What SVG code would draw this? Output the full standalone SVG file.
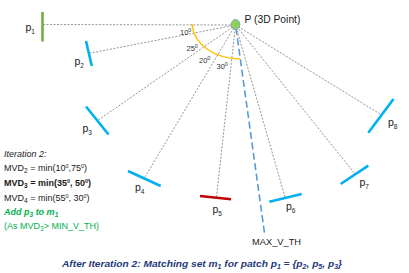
<svg xmlns="http://www.w3.org/2000/svg" width="409" height="273" viewBox="0 0 409 273">
<style>
text{font-family:"Liberation Sans",Arial,sans-serif;fill:#1a1a1a}
.ray{stroke:#666;stroke-width:0.7;stroke-dasharray:2 1.5;fill:none}
.patch{stroke:#00B0F0;stroke-width:2.6;stroke-linecap:butt;fill:none}
.lbl{font-size:10.5px}
.sub{font-size:6.5px}
.ang{font-size:7.5px;fill:#333}
.sup{font-size:5.5px}
.it{font-size:9px}
.grn{fill:#00B050}
</style>
<g id="connectors">
<line class="ray" x1="43" y1="24.5" x2="235.5" y2="25"/>
<line class="ray" x1="89.3" y1="53.3" x2="235.5" y2="25"/>
<line class="ray" x1="98.3" y1="120" x2="235.5" y2="25"/>
<line class="ray" x1="145" y1="177" x2="235.5" y2="25"/>
<line class="ray" x1="216.5" y1="197" x2="235.5" y2="25"/>
<line class="ray" x1="285" y1="197" x2="235.5" y2="25"/>
<line class="ray" x1="354" y1="172.7" x2="235.5" y2="25"/>
<line class="ray" x1="380" y1="114" x2="235.5" y2="25"/>
<line id="max-v-th" x1="236" y1="28" x2="264.5" y2="233" stroke="#5B9BD5" stroke-width="1.6" stroke-dasharray="7 3.5"/>
<path id="arc" d="M192 24 C194 45 214 58 239.5 59" fill="none" stroke="#FFC000" stroke-width="1.5"/>
</g>
<g id="P">
<ellipse cx="235.5" cy="24.5" rx="4.3" ry="5" fill="#92D050" stroke="#5B9BD5" stroke-width="0.8"/>
<text x="244.5" y="23" style="font-size:10.3px">P (3D Point)</text>
</g>
<g id="p1">
<line x1="42.5" y1="12" x2="42.5" y2="41.5" stroke="#70AD47" stroke-width="2.6"/>
<text class="lbl" x="25.5" y="31">p<tspan class="sub" dy="3">1</tspan></text>
</g>
<g id="p2">
<line class="patch" x1="86" y1="41" x2="91.8" y2="66"/>
<text class="lbl" x="74.5" y="65">p<tspan class="sub" dy="3">2</tspan></text>
</g>
<g id="p3">
<line class="patch" x1="86" y1="106.5" x2="108.5" y2="134.5"/>
<text class="lbl" x="82.5" y="132">p<tspan class="sub" dy="3">3</tspan></text>
</g>
<g id="p4">
<line class="patch" x1="128" y1="171" x2="160.7" y2="186"/>
<text class="lbl" x="135" y="191">p<tspan class="sub" dy="3">4</tspan></text>
</g>
<g id="p5">
<line x1="200" y1="196" x2="231" y2="199.3" stroke="#C00000" stroke-width="2.6"/>
<text class="lbl" x="212.5" y="213">p<tspan class="sub" dy="3">5</tspan></text>
</g>
<g id="p6">
<line class="patch" x1="269.3" y1="201.7" x2="301.7" y2="194"/>
<text class="lbl" x="286" y="210">p<tspan class="sub" dy="3">6</tspan></text>
</g>
<g id="p7">
<line class="patch" x1="340.7" y1="184" x2="368.3" y2="165.7"/>
<text class="lbl" x="359.5" y="186">p<tspan class="sub" dy="3">7</tspan></text>
</g>
<g id="p8">
<line class="patch" x1="368.3" y1="132.7" x2="393.5" y2="99"/>
<text class="lbl" x="388" y="126">p<tspan class="sub" dy="3">8</tspan></text>
</g>
<g id="angles">
<text class="ang" x="180" y="34.5">10<tspan class="sup" dy="-3">0</tspan></text>
<text class="ang" x="186.5" y="50.5">25<tspan class="sup" dy="-3">0</tspan></text>
<text class="ang" x="199" y="63">20<tspan class="sup" dy="-3">0</tspan></text>
<text class="ang" x="216.5" y="68.5">30<tspan class="sup" dy="-3">0</tspan></text>
</g>
<text x="252" y="245" style="font-size:9.3px">MAX_V_TH</text>
<g id="iteration">
<text class="it" x="4" y="157" font-style="italic">Iteration 2:</text>
<text class="it" x="4" y="171">MVD<tspan class="sub" dy="2">2</tspan><tspan dy="-2"> = min(10</tspan><tspan class="sup" dy="-3.5">0</tspan><tspan dy="3.5">,75</tspan><tspan class="sup" dy="-3.5">0</tspan><tspan dy="3.5">)</tspan></text>
<text class="it" x="4" y="186" font-weight="bold">MVD<tspan class="sub" dy="2">3</tspan><tspan dy="-2"> = min(35</tspan><tspan class="sup" dy="-3.5">0</tspan><tspan dy="3.5">, 50</tspan><tspan class="sup" dy="-3.5">0</tspan><tspan dy="3.5">)</tspan></text>
<text class="it" x="4" y="201">MVD<tspan class="sub" dy="2">4</tspan><tspan dy="-2"> = min(55</tspan><tspan class="sup" dy="-3.5">0</tspan><tspan dy="3.5">, 30</tspan><tspan class="sup" dy="-3.5">0</tspan><tspan dy="3.5">)</tspan></text>
<text class="it grn" x="4" y="215" font-weight="bold" font-style="italic">Add p<tspan class="sub" dy="2">3</tspan><tspan dy="-2"> to m</tspan><tspan class="sub" dy="2">1</tspan></text>
<text class="it grn" x="4" y="229">(As MVD<tspan class="sub" dy="2">3</tspan><tspan dy="-2">&gt; MIN_V_TH)</tspan></text>
</g>
<text x="62" y="267" textLength="280" lengthAdjust="spacingAndGlyphs" font-weight="bold" font-style="italic" style="font-size:9.5px;fill:#1F3A7A">After Iteration 2: Matching set m<tspan class="sub" dy="2">1</tspan><tspan dy="-2"> for patch p</tspan><tspan class="sub" dy="2">1</tspan><tspan dy="-2"> = {p</tspan><tspan class="sub" dy="2">2</tspan><tspan dy="-2">, p</tspan><tspan class="sub" dy="2">5</tspan><tspan dy="-2">, p</tspan><tspan class="sub" dy="2">3</tspan><tspan dy="-2">}</tspan></text>
</svg>
